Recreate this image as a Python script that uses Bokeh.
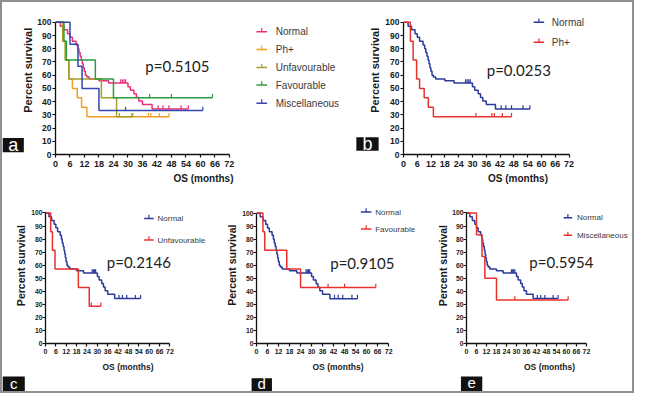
from math import pi
from bokeh.plotting import figure
from bokeh.layouts import column, row
from bokeh.models import Range1d, FixedTicker
from bokeh.core.properties import value
from bokeh.embed import file_html
from bokeh.resources import INLINE

# ---------------- data ----------------
month_ticks = [0, 6, 12, 18, 24, 30, 36, 42, 48, 54, 60, 66, 72]
percent_ticks = [0, 10, 20, 30, 40, 50, 60, 70, 80, 90, 100]

normal_time = [0, 2, 3.5, 5, 6, 7, 8.5, 9.2, 9.7, 10.2, 10.7, 11.1, 11.5, 11.9, 12.4,
               13, 14, 18, 22, 30, 31, 32.5, 33.5, 34.5, 36, 40, 55]
normal_surv = [100, 97.1, 94.3, 91.4, 88.6, 85.7, 82.9, 80.0, 77.1, 74.3, 71.4, 68.6, 65.7,
               62.9, 60.0, 58.6, 57.1, 55.7, 54.0, 51.3, 48.6, 45.9, 43.2, 40.5, 37.8, 34.4, 34.4]
normal_cens_time = [27, 27.7, 28.4, 29, 42.5, 44.5, 47, 52, 55]
normal_cens_surv = [54.0, 54.0, 54.0, 54.0, 34.4, 34.4, 34.4, 34.4, 34.4]

ph_time = [0, 3, 4.2, 5.7, 7, 9, 10.8, 13, 47]
ph_surv = [100, 85.7, 71.4, 57.1, 50.0, 42.9, 35.7, 28.6, 28.6]
ph_cens_time = [31.5, 38.5, 39.5, 43, 47]
ph_cens_surv = [28.6, 28.6, 28.6, 28.6, 28.6]

unf_time = [0, 3, 4, 5.5, 19, 25.3, 32]
unf_surv = [100, 85.7, 71.4, 57.1, 42.9, 28.6, 28.6]
unf_cens_time = [26.5, 32]
unf_cens_surv = [28.6, 28.6]

fav_time = [0, 3.5, 4.5, 16.5, 24, 65]
fav_surv = [100, 85.7, 71.4, 57.1, 42.9, 42.9]
fav_cens_time = [39, 48, 65]
fav_cens_surv = [42.9, 42.9, 42.9]

mis_time = [0, 6, 9.3, 11, 18, 61]
mis_surv = [100, 83.3, 66.7, 50.0, 33.3, 33.3]
mis_cens_time = [29, 61]
mis_cens_surv = [33.3, 33.3]

p_values = {"a": "p=0.5105", "b": "p=0.0253", "c": "p=0.2146", "d": "p=0.9105", "e": "p=0.5954"}
panel_letters = ["a", "b", "c", "d", "e"]
x_title = "OS (months)"
y_title = "Percent survival"

# ---------------- styling / geometry ----------------
SX = 630 / 650
SY = 389 / 409
C_PINK, C_ORANGE, C_OLIVE, C_GREEN, C_BLUE = "#E8307E", "#F2A024", "#A3A02A", "#2E9B3E", "#3346B0"
C_NAVY, C_RED = "#2B3A9B", "#E8322E"
BOX = "#111111"
INK = "#1a1a1a"

series = {
    "Normal": (normal_time, normal_surv, normal_cens_time, normal_cens_surv),
    "Ph+": (ph_time, ph_surv, ph_cens_time, ph_cens_surv),
    "Unfavourable": (unf_time, unf_surv, unf_cens_time, unf_cens_surv),
    "Favourable": (fav_time, fav_surv, fav_cens_time, fav_cens_surv),
    "Miscellaneous": (mis_time, mis_surv, mis_cens_time, mis_cens_surv),
}


def sxr(v):
    return round(v * SX)


def syr(v):
    return round(v * SY)


def blank(left_r, right_r, top_r, bottom_r):
    """A decoration strip whose data coordinates are the reference's pixels."""
    W = sxr(right_r) - sxr(left_r)
    H = syr(bottom_r) - syr(top_r)
    p = figure(width=W, height=H, x_range=Range1d(left_r, right_r), y_range=Range1d(bottom_r, top_r),
               output_backend="svg", toolbar_location=None, min_border=0,
               x_axis_type=None, y_axis_type=None)
    p.xgrid.visible = False
    p.ygrid.visible = False
    p.outline_line_color = None
    p.border_fill_color = "white"
    return p


def y_title_strip(left_r, right_r, top_r, bottom_r, tx, ty, fsize):
    p = blank(left_r, right_r, top_r, bottom_r)
    p.text(x=[tx], y=[ty], text=[y_title], angle=pi / 2, text_align="center", text_baseline="middle",
           text_font=value("Liberation Sans"), text_font_style="bold", text_font_size=fsize,
           text_color=INK)
    return p


def letter_box(p, letter, l, r, t, b, ty, fsize="18px"):
    p.quad(left=[l], right=[r], top=[t], bottom=[b], fill_color=BOX, line_color=None)
    p.text(x=[(l + r) / 2], y=[ty], text=[letter], text_align="center", text_baseline="middle",
           text_color="white", text_font=value("Liberation Sans"), text_font_size=fsize)


def make_panel(letter, left_r, right_r, top_r, bottom_r, x0r, x72r, y100r, y0r,
               items, legend, pv_pos, small):
    W = sxr(right_r) - sxr(left_r)
    H = syr(bottom_r) - syr(top_r)
    L = round(x0r * SX - sxr(left_r))
    ppm = (x72r - x0r) * SX / 72
    FH = round(y0r * SY - syr(top_r))
    ppp = (y0r - y100r) * SY / 100
    x_end = (W - L) / ppm
    y_end = FH / ppp

    def dx(xr):
        return (xr - x0r) / (x72r - x0r) * 72

    def dy(yr):
        return (y0r - yr) / (y0r - y100r) * 100

    p = figure(width=W, height=H, x_range=Range1d(0, x_end), y_range=Range1d(0, y_end),
               output_backend="svg", toolbar_location=None, min_border=0,
               min_border_left=L, min_border_right=0, min_border_top=0,
               min_border_bottom=H - FH)
    p.xgrid.visible = False
    p.ygrid.visible = False
    p.outline_line_color = None
    p.background_fill_color = "white"
    p.border_fill_color = "white"

    xa, ya = p.xaxis[0], p.yaxis[0]
    xa.ticker = FixedTicker(ticks=month_ticks)
    ya.ticker = FixedTicker(ticks=percent_ticks)
    xa.bounds = (0, 72)
    ya.bounds = (0, 100)
    for ax in (xa, ya):
        ax.axis_line_color = "#111111"
        ax.axis_line_width = 1.3
        ax.major_tick_line_color = "#111111"
        ax.major_tick_line_width = 1.2
        ax.major_tick_out = 3
        ax.major_tick_in = 0
        ax.minor_tick_line_color = None
        ax.major_label_text_font = "Liberation Sans"
        ax.major_label_text_font_style = "bold"
        ax.major_label_text_color = INK
        ax.axis_label_text_font = "Liberation Sans"
        ax.axis_label_text_font_style = "bold"
        ax.axis_label_text_color = INK
    xa.axis_label = x_title
    if small:
        xa.major_label_text_font_size = "7px"
        ya.major_label_text_font_size = "6.8px"
        xa.axis_label_text_font_size = "8.5px"
        xa.major_label_standoff = 2
        ya.major_label_standoff = 0
        xa.axis_label_standoff = 5
    else:
        xa.major_label_text_font_size = "9px"
        ya.major_label_text_font_size = "8.5px"
        xa.axis_label_text_font_size = "10px"
        xa.major_label_standoff = 3
        ya.major_label_standoff = 1
        xa.axis_label_standoff = 3

    tick_h = 4 / ((y0r - y100r) / 100)  # censor tick height in data units
    for name, color in items:
        t, s, ct, cs = series[name]
        p.step(t, s, mode="after", line_color=color, line_width=1.5)
        p.segment(x0=ct, y0=cs, x1=ct, y1=[v + tick_h for v in cs], line_color=color, line_width=1.2)

    # legend
    lx0, lx1, tx, ys, fsize = legend
    for (name, color), yr in zip(items, ys):
        yy = dy(yr)
        p.segment(x0=[dx(lx0)], y0=[yy], x1=[dx(lx1)], y1=[yy], line_color=color, line_width=1.5)
        mid = dx((lx0 + lx1) / 2)
        p.segment(x0=[mid], y0=[yy], x1=[mid], y1=[yy + tick_h], line_color=color, line_width=1.2)
        p.text(x=[dx(tx)], y=[yy], text=[name], text_baseline="middle", text_align="left",
               text_font=value("Liberation Sans"), text_font_size=fsize, text_color="#3a3a3a")

    # p-value
    px, py = pv_pos
    p.text(x=[dx(px)], y=[dy(py)], text=[p_values[letter]], text_baseline="middle", text_align="left",
           text_font=value("Lato"), text_font_size="15px", text_color="#222222")
    return p


# ---- top row ----
strip_a = y_title_strip(0, 33, 0, 203, 26, 90.5, "11px")
letter_box(strip_a, panel_letters[0], 0, 22, 181, 200, 190)

pa = make_panel("a", 33, 360, 0, 203, 54, 234, 21, 160,
                [("Normal", C_PINK), ("Ph+", C_ORANGE), ("Unfavourable", C_OLIVE),
                 ("Favourable", C_GREEN), ("Miscellaneous", C_BLUE)],
                (262, 273, 282, [31, 49.5, 68.5, 87, 106], "10px"),
                (147, 67), False)

strip_b = y_title_strip(360, 392, 0, 203, 384.5, 90.5, "11px")
letter_box(strip_b, panel_letters[1], 365, 388, 180, 198, 189)

pb = make_panel("b", 392, 650, 0, 203, 411, 584, 21, 160,
                [("Normal", C_NAVY), ("Ph+", C_RED)],
                (547, 558, 566, [21, 42], "10px"),
                (498, 71), False)

# ---- bottom row ----
strip_c = y_title_strip(0, 27, 203, 391, 19.5, 292, "10.5px")
pc = make_panel("c", 27, 215, 203, 391, 42, 172, 222, 362,
                [("Normal", C_NAVY), ("Unfavourable", C_RED)],
                (145, 155, 159, [228, 251], "8px"),
                (106, 275), True)
strip_d = y_title_strip(215, 245, 203, 391, 237.5, 291.5, "10.5px")
pd = make_panel("d", 245, 430, 203, 391, 260, 398, 222, 361,
                [("Normal", C_NAVY), ("Favourable", C_RED)],
                (369, 380, 384, [221, 239], "8px"),
                (337, 275), True)
strip_e = y_title_strip(430, 461, 203, 391, 454.5, 292, "10.5px")
pe = make_panel("e", 461, 650, 203, 391, 476, 602, 222, 362,
                [("Normal", C_NAVY), ("Miscellaneous", C_RED)],
                (578, 587, 592, [227, 246], "8px"),
                (542, 275), True)

strip_bottom = blank(0, 650, 391, 409)
letter_box(strip_bottom, panel_letters[2], 0, 23, 393, 413, 400.5, "15px")
letter_box(strip_bottom, panel_letters[3], 257, 278, 395, 413, 400.5, "15px")
letter_box(strip_bottom, panel_letters[4], 473, 495, 393, 413, 400.5, "15px")

layout = column(row(strip_a, pa, strip_b, pb),
                row(strip_c, pc, strip_d, pd, strip_e, pe),
                strip_bottom,
                styles={"border": "2px solid #8f8f8f"})

open("out.html", "w").write(file_html(layout, INLINE))
